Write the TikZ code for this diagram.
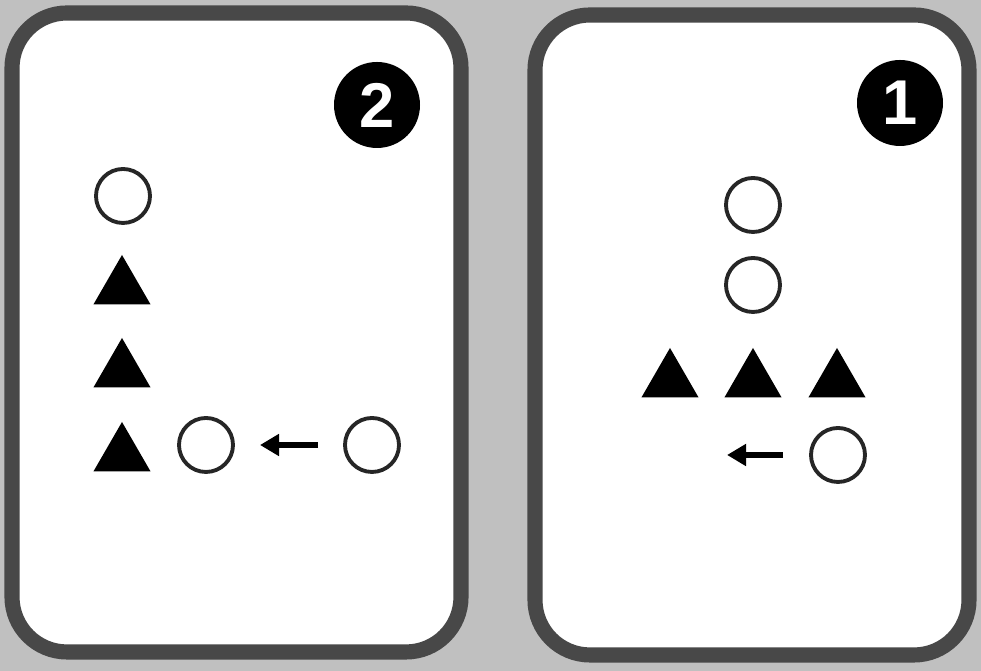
\documentclass[tikz,border=0pt]{standalone}
\usepackage{fontspec}
\usepackage{tikz}
\usetikzlibrary{arrows.meta,shapes.geometric}

\newfontfamily\badgefont{Liberation Sans}
\definecolor{bgpaper}{RGB}{192,192,192}
\definecolor{cardedge}{RGB}{72,72,72}

\begin{document}
\begin{tikzpicture}[
  card/.style={draw=cardedge, line width=4.3pt, rounded corners=0.55cm, fill=white},
  ring/.style={circle, draw=black!85, line width=1.1pt, minimum size=0.54cm, inner sep=0pt},
  tri/.style={regular polygon, regular polygon sides=3, fill=black, minimum size=0.66cm, inner sep=0pt},
  badge/.style={circle, fill=black, text=white, minimum size=0.86cm, inner sep=0pt,
    font=\badgefont\bfseries\fontsize{18}{18}\selectfont},
  back/.style={-{Triangle[length=0.19cm, width=0.21cm]}, line width=1.5pt}
]
% paper and cards
\fill[bgpaper] (0,0) rectangle (9.81,6.71);
\draw[card] (0.12,6.58) rectangle (4.61,0.19);
\draw[card] (5.35,6.56) rectangle (9.69,0.16);

% card 2
\node[badge] (num2) at (3.77,5.66) {2};
\node[ring] (a1) at (1.23,4.75) {};
\node[tri] (a2) at (1.22,3.83) {};
\node[tri] (a3) at (1.22,3.00) {};
\node[tri] (a4) at (1.22,2.16) {};
\node[ring] (a5) at (2.06,2.26) {};
\node[ring] (a6) at (3.72,2.26) {};
\coordinate (a7) at (3.18,2.26);
\coordinate (a8) at (2.60,2.26);
\draw[back] (a7) -- (a8);

% card 1
\node[badge] (num1) at (9.00,5.68) {1};
\node[ring] (b1) at (7.53,4.66) {};
\node[ring] (b2) at (7.53,3.86) {};
\node[tri] (b3) at (6.70,2.90) {};
\node[tri] (b4) at (7.53,2.90) {};
\node[tri] (b5) at (8.37,2.90) {};
\node[ring] (b6) at (8.38,2.16) {};
\coordinate (b7) at (7.83,2.16);
\coordinate (b8) at (7.27,2.16);
\draw[back] (b7) -- (b8);
\end{tikzpicture}
\end{document}
